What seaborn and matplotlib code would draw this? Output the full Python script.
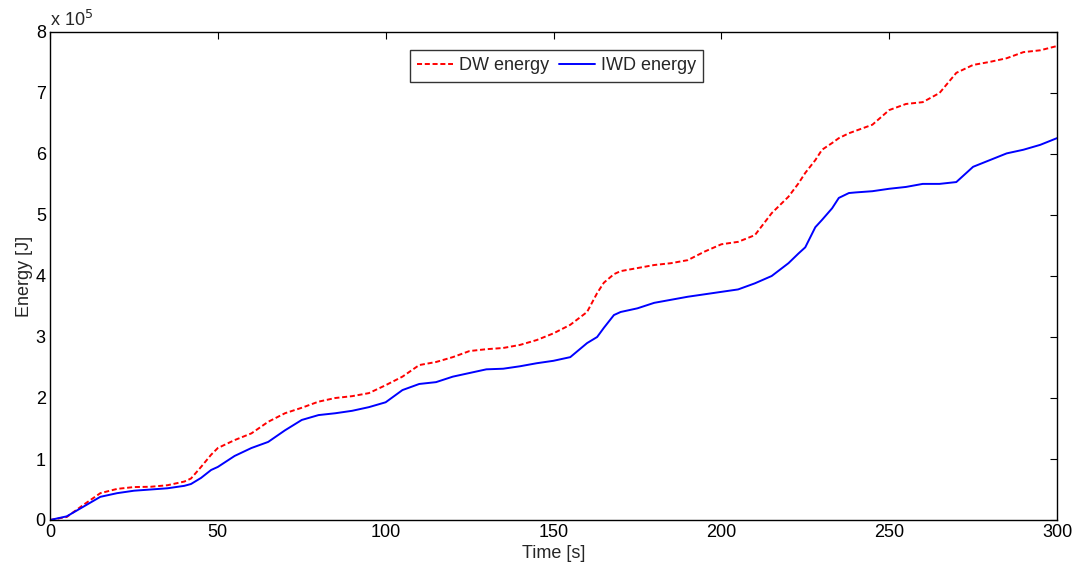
import numpy as np
import matplotlib
matplotlib.use("Agg")
import matplotlib.pyplot as plt
import seaborn as sb
import pandas as pd
from matplotlib.ticker import FuncFormatter

# time axis [s] and energies (units of 1e5 J)
time_s = [0, 5, 10, 15, 20, 25, 30, 35, 40, 42, 45, 48, 50, 55, 60, 65, 70, 75, 80, 85,
          90, 95, 100, 105, 110, 115, 120, 125, 130, 135, 140, 145, 150, 155, 160, 163,
          165, 168, 170, 175, 180, 185, 190, 195, 200, 205, 210, 215, 220, 223, 225, 228,
          230, 233, 235, 238, 240, 245, 250, 255, 260, 265, 270, 275, 280, 285, 290, 295, 300]
dw_energy = [0, 0.05, 0.25, 0.44, 0.51, 0.54, 0.545, 0.57, 0.63, 0.68, 0.87, 1.07, 1.18, 1.31,
             1.42, 1.61, 1.75, 1.84, 1.94, 2.0, 2.03, 2.08, 2.21, 2.35, 2.54, 2.59, 2.67, 2.77,
             2.8, 2.82, 2.87, 2.95, 3.06, 3.2, 3.41, 3.72, 3.89, 4.03, 4.08, 4.13, 4.18, 4.21,
             4.26, 4.40, 4.52, 4.56, 4.67, 5.03, 5.3, 5.52, 5.69, 5.9, 6.07, 6.18, 6.26, 6.34,
             6.38, 6.48, 6.72, 6.82, 6.85, 7.0, 7.33, 7.46, 7.51, 7.57, 7.67, 7.7, 7.77]
iwd_energy = [0, 0.06, 0.22, 0.38, 0.44, 0.48, 0.5, 0.52, 0.56, 0.59, 0.69, 0.82, 0.87, 1.05,
              1.18, 1.28, 1.47, 1.64, 1.72, 1.75, 1.79, 1.85, 1.93, 2.13, 2.23, 2.26, 2.35, 2.41,
              2.47, 2.48, 2.52, 2.57, 2.61, 2.67, 2.9, 3.0, 3.15, 3.36, 3.41, 3.47, 3.56, 3.61,
              3.66, 3.70, 3.74, 3.78, 3.88, 4.0, 4.21, 4.37, 4.47, 4.8, 4.92, 5.11, 5.28, 5.36,
              5.37, 5.39, 5.43, 5.46, 5.51, 5.51, 5.54, 5.79, 5.9, 6.01, 6.07, 6.15, 6.26]

df = pd.DataFrame({"t": time_s,
                   "DW": np.array(dw_energy) * 1e5,
                   "IWD": np.array(iwd_energy) * 1e5})

sb.set_style("white")
plt.rcParams['font.family'] = ['Liberation Sans', 'DejaVu Sans']
fs = 13

fig = plt.figure(figsize=(10.77, 5.67), dpi=100)
ax = fig.add_axes([50/1077, 1-520/567, 1007/1077, 488/567])

sb.lineplot(data=df, x="t", y="DW", ax=ax, color="red", lw=1.4, label="DW energy")
ax.lines[-1].set_dashes((2.6, 1.4))
sb.lineplot(data=df, x="t", y="IWD", ax=ax, color="blue", lw=1.4, label="IWD energy")

ax.set_xlim(0, 300)
ax.set_ylim(0, 8e5)
ax.set_xticks(np.arange(0, 301, 50))
ax.set_yticks(np.arange(0, 8.01e5, 1e5))
ax.yaxis.set_major_formatter(FuncFormatter(lambda v, p: "%d" % round(v/1e5)))
ax.tick_params(direction="in", length=5, width=0.8, top=True, right=True,
               labelsize=fs, pad=3, colors="black")
for s in ax.spines.values():
    s.set_color("black")
    s.set_linewidth(1.0)
ax.set_xlabel("Time [s]", fontsize=fs, labelpad=3)
ax.set_ylabel("Energy [J]", fontsize=fs, labelpad=2)
ax.text(0, 1.005, "x 10$^5$", transform=ax.transAxes, fontsize=fs, va="bottom", ha="left")

leg = ax.legend(loc="upper center", bbox_to_anchor=(0.503, 0.963), ncol=2, frameon=True,
                fancybox=False, handlelength=2.0, handletextpad=0.35, columnspacing=0.5,
                borderpad=0.4, borderaxespad=0, fontsize=fs)
leg.get_frame().set_edgecolor("black")
leg.get_frame().set_linewidth(1.0)

fig.savefig("out.png", dpi=100)
